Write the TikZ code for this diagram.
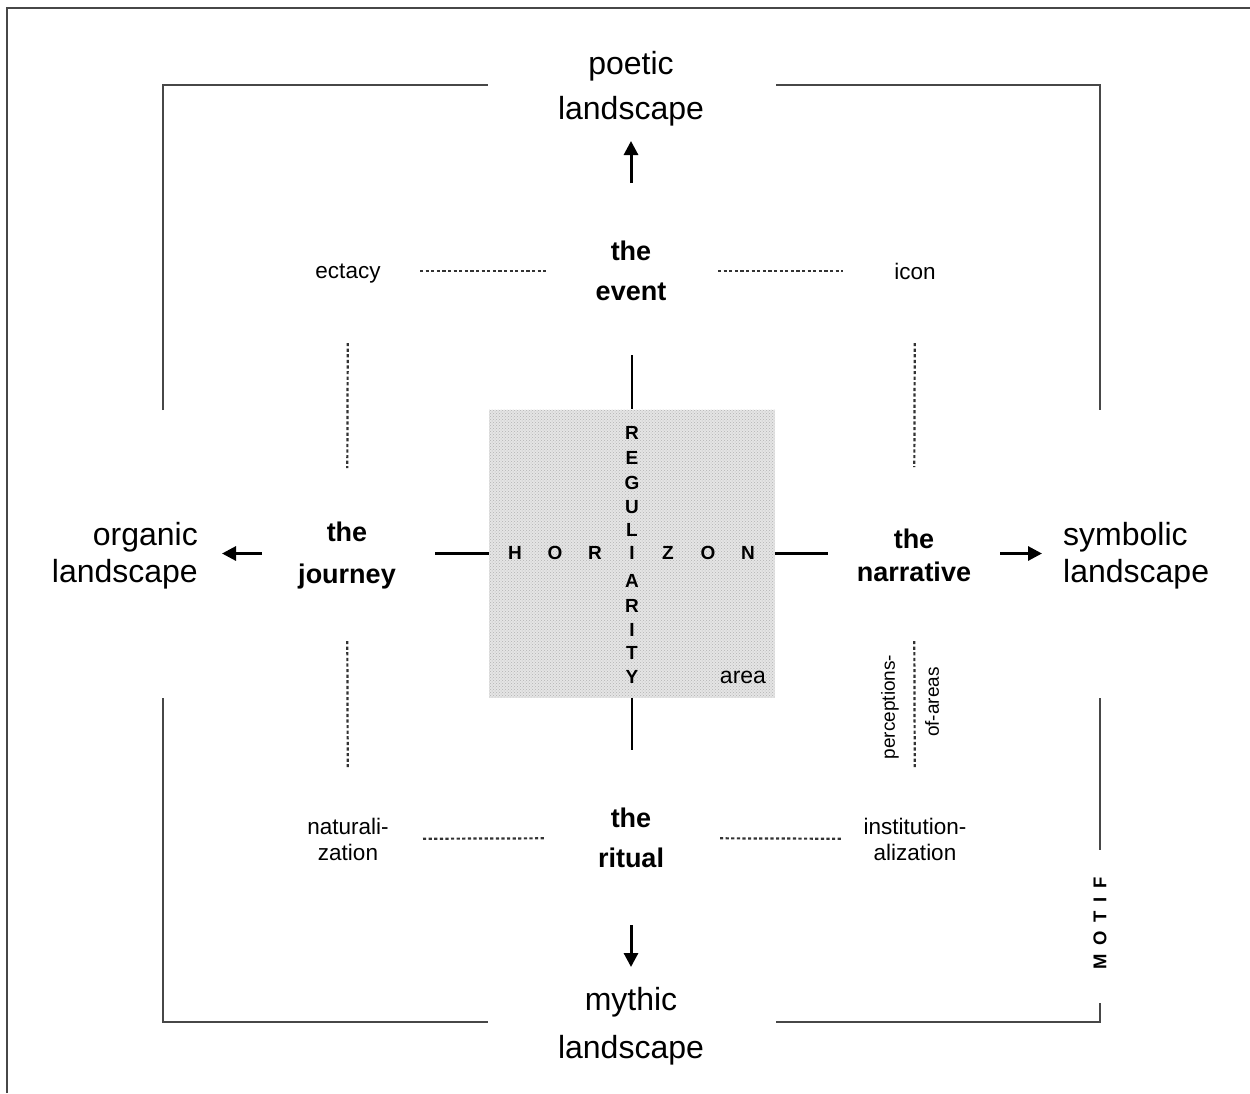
\documentclass[tikz,border=0pt]{standalone}
\usepackage{fontspec}
\setmainfont{Liberation Sans}
\usetikzlibrary{arrows.meta,patterns}
\begin{document}
\begin{tikzpicture}[x=1pt,y=-1pt,
  framestyle/.style={line width=2.4pt,draw=black!72},
  dotline/.style={line width=2.2pt,draw=black!80,dash pattern=on 3.2pt off 2.4pt},
  solidline/.style={line width=2.4pt,draw=black},
  arr/.style={line width=3pt,draw=black,-{Triangle[length=14pt,width=14pt]}},
  big/.style={font=\fontsize{32}{45}\selectfont,align=center,inner sep=2pt},
  bigtight/.style={font=\fontsize{32}{37}\selectfont,inner sep=2pt},
  boldlbl/.style={font=\fontsize{27}{40}\selectfont\bfseries,align=center,inner sep=2pt},
  small/.style={font=\fontsize{22.5}{26}\selectfont,align=center,inner sep=2pt},
  tiny/.style={font=\fontsize{19}{19}\selectfont,inner sep=1pt},
  letter/.style={font=\fontsize{19}{19}\selectfont\bfseries,inner sep=0pt},
]
\useasboundingbox (0,0) rectangle (1250,1093);
% outer frame (only top and left visible)
\draw[line width=2.4pt,draw=black!72] (7,1093) -- (7,8) -- (1250,8);

% bracket frame
\coordinate (tl1) at (163,410); \coordinate (tl2) at (163,85); \coordinate (tl3) at (488,85);
\coordinate (tr1) at (776,85); \coordinate (tr2) at (1100,85); \coordinate (tr3) at (1100,410);
\coordinate (bl1) at (163,698); \coordinate (bl2) at (163,1022); \coordinate (bl3) at (488,1022);
\coordinate (br1) at (1100,698); \coordinate (br2) at (1100,850);
\coordinate (br3) at (1100,1003); \coordinate (br4) at (1100,1022); \coordinate (br5) at (776,1022);
\draw[framestyle] (tl1) -- (tl2) -- (tl3);
\draw[framestyle] (tr1) -- (tr2) -- (tr3);
\draw[framestyle] (bl1) -- (bl2) -- (bl3);
\draw[framestyle] (br1) -- (br2);
\draw[framestyle] (br3) -- (br4) -- (br5);
\node[rotate=90,font=\fontsize{18.5}{18.5}\selectfont\bfseries,inner sep=1pt] (motif) at (1100,923)
  {M\hspace{8pt}O\hspace{9pt}T\hspace{9pt}I\hspace{9pt}F};

% central area
\node[minimum width=286pt,minimum height=288pt,inner sep=0pt,
  preaction={fill=gray!20},pattern=crosshatch dots,pattern color=gray!60] (sq) at (632,553.5) {};

\foreach \l/\x [count=\i] in {H/515,O/555,R/595,I/632,Z/668,O/708,N/748}
  \node[letter] (hz\i) at (\x,553) {\l};
\foreach \l/\y [count=\i] in {R/433,E/458,G/483,U/507,L/530,A/581,R/606,I/630,T/653,Y/677}
  \node[letter] (rg\i) at (632,\y) {\l};
\node[font=\fontsize{23}{23}\selectfont,inner sep=1pt] (area) at (743,677) {area};

% outer labels
\node[big] (poetic) at (631,89) {poetic\\landscape};
\node[big,font=\fontsize{32}{48}\selectfont] (mythic) at (631,1026) {mythic\\landscape};
\node[bigtight,align=right,anchor=east] (organic) at (200,556) {organic\\landscape};
\node[bigtight,align=left,anchor=west] (symbolic) at (1061,556) {symbolic\\landscape};

% main bold labels
\node[boldlbl] (event) at (631,271) {the\\event};
\node[boldlbl,font=\fontsize{27}{42}\selectfont\bfseries] (journey) at (347,556) {the\\journey};
\node[boldlbl,font=\fontsize{27}{33}\selectfont\bfseries] (narrative) at (914,555) {the\\narrative};
\node[boldlbl] (ritual) at (631,838) {the\\ritual};

% corner labels
\node[small] (ectacy) at (348,274) {ectacy};
\node[small] (icon) at (915,271) {icon};
\node[small] (natur) at (348,839) {naturali-\\zation};
\node[small] (instit) at (915,839) {institution-\\alization};
\node[tiny,rotate=90] (percep) at (890,707) {perceptions-};
\node[tiny,rotate=90] (ofareas) at (932,702) {of-areas};

% arrows
\draw[arr,shorten <=88pt,shorten >=52pt] (event.center) -- (poetic.center);
\draw[arr,shorten <=87pt,shorten >=59pt] (ritual.center) -- (mythic.center);
\draw[arr,shorten <=85pt,shorten >=22pt] (journey.center |- sq.west) -- (organic.east |- sq.west);
\draw[arr,shorten <=86pt,shorten >=19pt] (narrative.center |- sq.east) -- (symbolic.west |- sq.east);

% dotted connectors
\draw[dotline,shorten <=72pt,shorten >=85pt] (ectacy.center |- event.center) -- (event.center);
\draw[dotline,shorten <=87pt,shorten >=72pt] (event.center) -- (icon.center);
\draw[dotline,shorten <=75pt,shorten >=85pt] (natur.center) -- (ritual.center);
\draw[dotline,shorten <=89pt,shorten >=72pt] (ritual.center) -- (instit.center);
\draw[dotline,shorten <=72pt,shorten >=88pt] (ectacy.center |- event.center) -- (journey.center);
\draw[dotline,shorten <=72pt,shorten >=88pt] (icon.center) -- (narrative.center);
\draw[dotline,shorten <=85pt,shorten >=72pt] (journey.center) -- (natur.center);
\draw[dotline,shorten <=86pt,shorten >=72pt] (narrative.center) -- (instit.center);

% solid connectors to central area
\draw[solidline,shorten <=84pt] (sq.north |- event.center) -- (sq.north);
\draw[solidline,shorten >=88pt] (sq.south) -- (sq.south |- ritual.center);
\draw[solidline,shorten <=88pt] (journey.center |- sq.west) -- (sq.west);
\draw[solidline,shorten >=86pt] (sq.east) -- (narrative.center |- sq.east);
\end{tikzpicture}
\end{document}
